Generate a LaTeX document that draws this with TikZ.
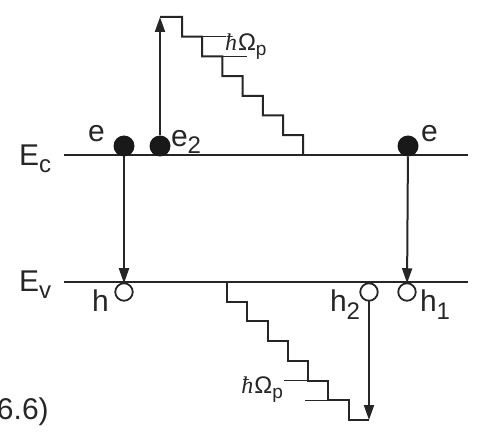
\documentclass[tikz,border=0pt]{standalone}
\usepackage{fontspec}
\setmainfont{Liberation Sans}
\newfontfamily\hbarfont{Liberation Serif}
\usetikzlibrary{arrows.meta}
\newcommand{\subtxt}[1]{\raisebox{-7pt}{\fontsize{24}{24}\selectfont #1}}
\newcommand{\phonon}{{\hbarfont\itshape ħ}\kern1pt Ω\raisebox{-5pt}{\fontsize{19}{19}\selectfont p}}

\begin{document}
\begin{tikzpicture}[x=1pt, y=-1pt,
    every node/.style={text=black!85, inner sep=0pt, outer sep=0pt},
    lab/.style={font=\fontsize{30}{32}\selectfont, anchor=base west},
    phon/.style={font=\fontsize{24}{26}\selectfont},
    lvl/.style={line width=2.1pt, draw=black!85},
    stairs/.style={line width=2pt, draw=black!85, line join=miter},
    tick/.style={line width=1.3pt, draw=black!85},
    trans/.style={line width=2pt, draw=black!85, -{Triangle[length=15pt, width=10pt]}},
    electron/.style={circle, fill=black!90, minimum size=21pt},
    hole/.style={circle, draw=black!85, line width=1.8pt, fill=white, minimum size=17.5pt}]
    \useasboundingbox (0,0) rectangle (479,446);

    % Les dues bandes
    \draw[lvl] (64,155) -- (468,155);
    \draw[lvl] (64,282) -- (468,282);
    \node[lab] (Ec) at (19,166) {E\subtxt{c}};
    \node[lab] (Ev) at (19,291) {E\subtxt{v}};

    % Electrons a la banda de conduccio
    \node[electron] (e1) at (124,146) {};
    \node[electron] (e2) at (160,146) {};
    \node[electron] (e3) at (408,146) {};
    \node[lab] (le1) at (88,142) {e};
    \node[lab] (le2) at (171,147) {e\subtxt{2}};
    \node[lab] (le3) at (421,142) {e};

    % Forats a la banda de valencia
    \node[hole] (h1) at (124,292) {};
    \node[hole] (h2) at (369,292) {};
    \node[hole] (h3) at (407,292) {};
    \node[lab] (lh1) at (92,312) {h};
    \node[lab] (lh2) at (330,312) {h\subtxt{2}};
    \node[lab] (lh3) at (420,312) {h\subtxt{1}};

    % Recombinacions
    \draw[trans] (e1) -- (h1);
    \draw[trans] (e3) -- (h3);

    % Electro calent i emissio de fonons (escala de dalt)
    \coordinate (top) at (160,17);
    \draw[trans] (e2) -- (top);
    \draw[stairs] (top) -- (182,17) \foreach \k in {1,...,6} { |- ++(20.2,19.7) } -- (303.2,155);
    \draw[tick] (202.2,36.7) -- (226,36.7);
    \draw[tick] (222.4,56.4) -- (247,56.4);
    \node[phon, anchor=west] (wtop) at (225,46.5) {\phonon};

    % Forat calent i emissio de fonons (escala de baix)
    \coordinate (bot) at (369,420);
    \draw[trans] (h2) -- (bot);
    \draw[stairs] (227,282) \foreach \k in {1,...,7} { |- ++(20.28,19.7) };
    \draw[tick] (284,380.5) -- (308,380.5);
    \draw[tick] (305,400.2) -- (328,400.2);
    \node[phon, anchor=east] (wbot) at (283,390) {\phonon};

    % Numero de l'equacio (tallat)
    \node[lab] (eq) at (-3,419) {6.6)};
\end{tikzpicture}
\end{document}
